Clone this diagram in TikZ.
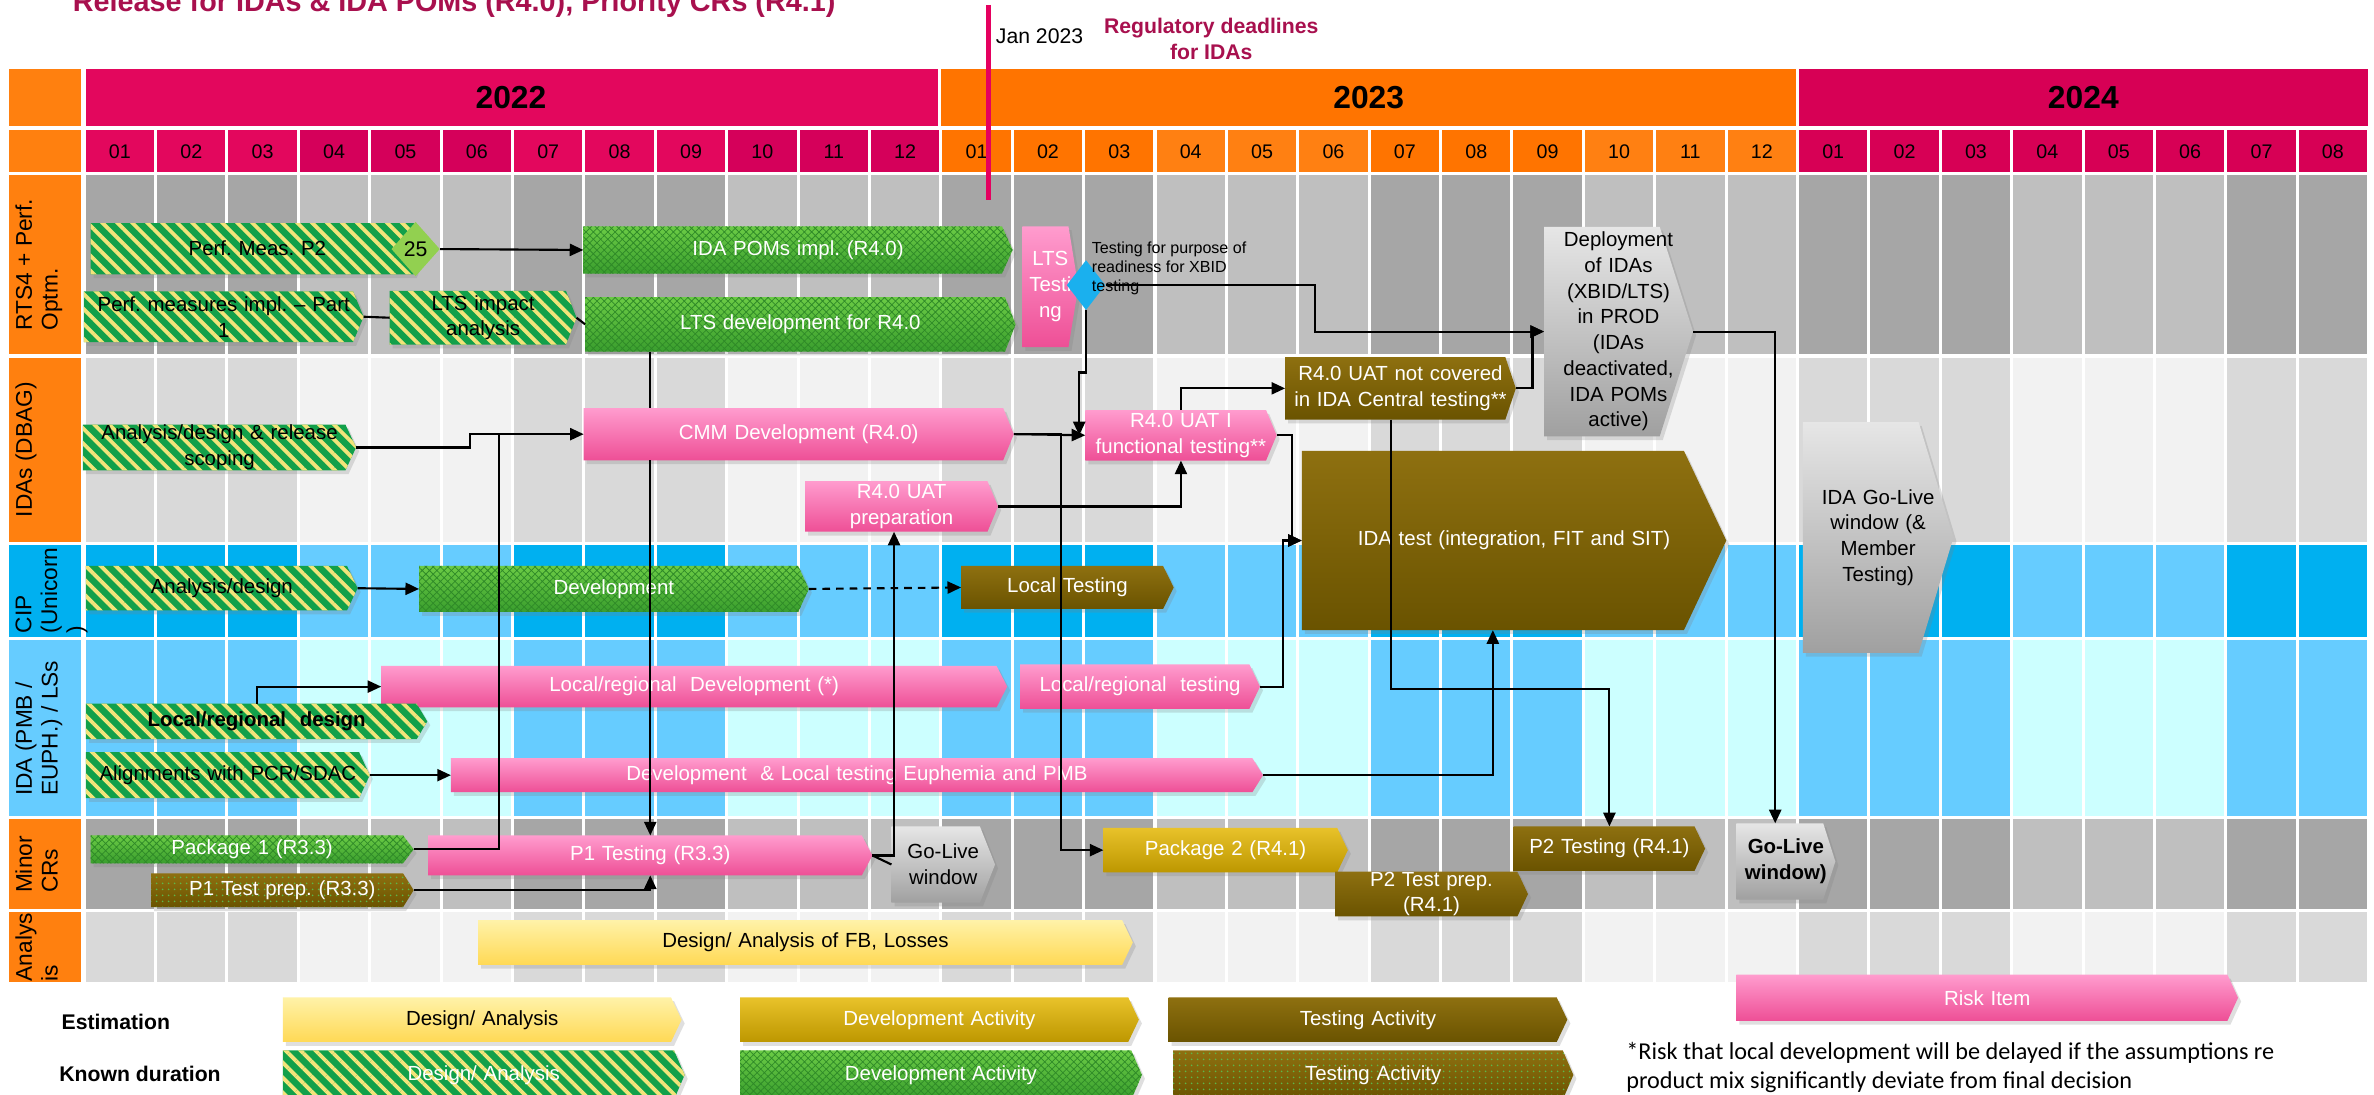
\documentclass[tikz,border=0pt]{standalone}
\usepackage{fontspec}
\setmainfont{Liberation Sans}
\newfontfamily\notefont{Carlito}
\usetikzlibrary{shapes.geometric,arrows.meta,patterns.meta,shadows}
\frenchspacing

% header and grid colours
\definecolor{sideOrange}{HTML}{FF800F}
\definecolor{yr22}{HTML}{E3075D}
\definecolor{yr23}{HTML}{FF7400}
\definecolor{yr24}{HTML}{D70055}
\definecolor{m22a}{HTML}{E3075D}
\definecolor{m22b}{HTML}{D5005A}
\definecolor{m23a}{HTML}{FF7400}
\definecolor{m23b}{HTML}{FF8012}
\definecolor{m24a}{HTML}{D70055}
\definecolor{gridDark}{HTML}{A6A6A6}
\definecolor{gridLight}{HTML}{BFBFBF}
\definecolor{paleDark}{HTML}{D9D9D9}
\definecolor{paleLight}{HTML}{F2F2F2}
\definecolor{cipDark}{HTML}{00B0F0}
\definecolor{cipLight}{HTML}{66CCFF}
\definecolor{pmbLight}{HTML}{CCFFFF}
\definecolor{titleRed}{HTML}{A8104E}
\definecolor{janRed}{HTML}{E5005F}
% bar colours
\definecolor{pinkT}{HTML}{FF9CCE}
\definecolor{pinkB}{HTML}{EE4F96}
\definecolor{greenT}{HTML}{6BCB45}
\definecolor{greenB}{HTML}{3A9E2E}
\definecolor{greenH}{HTML}{2F8A28}
\definecolor{stripeG}{HTML}{12A04A}
\definecolor{stripeY}{HTML}{F2E47A}
\definecolor{goldT}{HTML}{E8C22A}
\definecolor{goldB}{HTML}{BD9700}
\definecolor{oliveT}{HTML}{8E7010}
\definecolor{oliveB}{HTML}{6A5300}
\definecolor{dotG}{HTML}{5DB84A}
\definecolor{yellowT}{HTML}{FFF2A8}
\definecolor{yellowB}{HTML}{FFD955}
\definecolor{grayT}{HTML}{E6E6E6}
\definecolor{grayB}{HTML}{A0A0A0}
\definecolor{diaBlue}{HTML}{1AB0EE}
\definecolor{diaGreen}{HTML}{92D050}

\pgfdeclarelayer{grid}
\pgfdeclarelayer{boxes}
\pgfsetlayers{grid,boxes,main}

\tikzset{
  boxtext/.style={inner sep=0pt, align=center, font=\fontsize{13.5}{17}\selectfont},
  boxshadow/.style={drop shadow={shadow xshift=2pt, shadow yshift=-2.5pt, opacity=0.25}},
  shade box/.style 2 args={boxshadow, top color=#1, bottom color=#2},
  pink box/.style={shade box={pinkT}{pinkB}},
  pink txt/.style={text=white},
  green box/.style={shade box={greenT}{greenB},
    postaction={pattern={Hatch[angle=45,distance=3.4pt,line width=0.5pt]}, pattern color=greenH}},
  green txt/.style={text=white},
  stripe box/.style={boxshadow, preaction={fill=stripeG},
    pattern={Lines[angle=-45,distance=7pt,line width=2.5pt]}, pattern color=stripeY},
  stripe txt/.style={text=black},
  stripew box/.style={stripe box},
  stripew txt/.style={text=white},
  gold box/.style={shade box={goldT}{goldB}},
  gold txt/.style={text=white},
  olive box/.style={shade box={oliveT}{oliveB}},
  olive txt/.style={text=white},
  olivedot box/.style={shade box={oliveT}{oliveB},
    postaction={pattern={Dots[distance=4pt,radius=0.7pt]}, pattern color=dotG}},
  olivedot txt/.style={text=white},
  yellow box/.style={shade box={yellowT}{yellowB}},
  yellow txt/.style={text=black},
  gray box/.style={shade box={grayT}{grayB}},
  gray txt/.style={text=black},
  conn/.style={line width=1.4pt, -{Triangle[length=9pt,width=8pt]}},
  link/.style={line width=1.4pt},
  sidelabel/.style={rotate=90, anchor=north, align=left, inner sep=0pt, font=\fontsize{15}{17}\selectfont},
  monthlabel/.style={font=\fontsize{13}{13}\selectfont},
  yearlabel/.style={font=\bfseries\fontsize{21}{21}\selectfont},
}

% bar: [tip]{name}{x1}{x2}{y1}{y2}{kind}{text}
\newcommand{\ganttbar}[8][7]{%
  \pgfmathsetmacro\gbw{#4-#3}%
  \pgfmathsetmacro\gbh{#6-#5}%
  \pgfmathsetmacro\gbx{(#3+#4)/2}%
  \pgfmathsetmacro\gby{(#5+#6)/2}%
  \node[boxtext, #7 txt, text width=\gbw pt, minimum height=\gbh pt] (#2) at (\gbx,\gby) {#8};
  \begin{pgfonlayer}{boxes}
    \path[#7 box] (#2.north west) -- ([xshift=-#1pt]#2.north east) -- (#2.east)
      -- ([xshift=-#1pt]#2.south east) -- (#2.south west) -- cycle;
  \end{pgfonlayer}}

\begin{document}
\begin{tikzpicture}[x=1pt,y=-1pt]
\useasboundingbox (0,0) rectangle (1568,723);

\begin{pgfonlayer}{grid}
  \fill[white] (0,0) rectangle (1568,723);
  % year row
  \fill[sideOrange] (6,45.6) rectangle (53.5,83);
  \fill[yr22] (56.6,45.6) rectangle (619.4,83);
  \fill[yr23] (621.5,45.6) rectangle (1186,83);
  \fill[yr24] (1188,45.6) rectangle (1564,83);
  \node[yearlabel] (y2022) at (337.5,64.3) {2022};
  \node[yearlabel] (y2023) at (904,64.3) {2023};
  \node[yearlabel] (y2024) at (1376,64.3) {2024};
  % month row
  \fill[sideOrange] (6,86) rectangle (53.5,113.6);
  \foreach \i in {0,...,31}{
    \pgfmathsetmacro\xa{55.6+\i*47.15+1}
    \pgfmathsetmacro\xb{\xa+45.15}
    \pgfmathtruncatemacro\q{mod(int(\i/3),2)}
    \pgfmathtruncatemacro\mm{mod(\i,12)+1}
    \ifnum\i<12 \ifnum\q=0 \def\mcol{m22a}\else\def\mcol{m22b}\fi
    \else\ifnum\i<24 \ifnum\q=0 \def\mcol{m23a}\else\def\mcol{m23b}\fi
    \else\def\mcol{m24a}\fi\fi
    \fill[\mcol] (\xa,86) rectangle (\xb,113.6);
    \node[monthlabel] (mon\i) at ({\xa+22.6},100) {\ifnum\mm<10 0\fi\mm};
  }
  % lanes, shaded by quarter
  \foreach \ya/\yb/\cd/\cl/\cs in {115.5/234/gridDark/gridLight/sideOrange,
      236.5/357.8/paleDark/paleLight/sideOrange, 360/420.5/cipDark/cipLight/cipDark,
      422.5/539/cipLight/pmbLight/cipLight, 541/600.5/gridDark/gridLight/sideOrange,
      602.5/648.6/paleDark/paleLight/sideOrange}{
    \fill[\cs] (6,\ya) rectangle (53.5,\yb);
    \foreach \i in {0,...,31}{
      \pgfmathsetmacro\xa{55.6+\i*47.15+1}
      \pgfmathsetmacro\xb{\xa+45.15}
      \pgfmathtruncatemacro\q{mod(int(\i/3),2)}
      \ifnum\q=0 \fill[\cd] (\xa,\ya) rectangle (\xb,\yb);
      \else \fill[\cl] (\xa,\ya) rectangle (\xb,\yb);\fi
    }
  }
\end{pgfonlayer}

% lane labels
\node[sidelabel] (lrts) at (10,174.8) {RTS4 + Perf.\\Optm.};
\node[sidelabel] (lida) at (10,297) {IDAs (DBAG)};
\node[sidelabel] (lcip) at (10,390) {CIP\\(Unicorn\\)};
\node[sidelabel] (lpmb) at (10,481) {IDA (PMB /\\EUPH.) / LSs};
\node[sidelabel] (lminor) at (10,571) {Minor\\CRs};
\node[sidelabel] (lana) at (10,625.6) {Analys\\is};

% title and deadline
\node[anchor=base west, inner sep=0pt, text=titleRed, font=\bfseries\fontsize{19}{19}\selectfont] (title) at (48,7.5)
  {Release for IDAs \& IDA POMs (R4.0), Priority CRs (R4.1)};
\node[anchor=base west, inner sep=0pt, font=\fontsize{14}{14}\selectfont] (jan) at (657.6,29) {Jan 2023};
\node[anchor=north, align=center, inner sep=0pt, text=titleRed, font=\bfseries\fontsize{14}{17}\selectfont] (reg) at (800,11.8)
  {Regulatory deadlines\\for IDAs};

% RTS4 + Perf. Optm.
\ganttbar{perfmeas}{60}{280}{147.5}{181}{stripe}{Perf. Meas. P2}
\ganttbar{pomsimpl}{385.5}{668.6}{149.7}{180.5}{green}{IDA POMs impl. (R4.0)}
\ganttbar{perfimpl}{55.6}{240}{192.7}{225.7}{stripe}{Perf. measures impl. -- Part\\1}
\ganttbar{ltsimpact}{257.6}{380.6}{192.3}{227.4}{stripe}{LTS impact\\analysis}
\ganttbar{ltsdev}{386.7}{670.6}{196.5}{232}{green}{LTS development for R4.0}
\ganttbar[6.5]{ltstest}{675.5}{712}{149.7}{229}{pink}{LTS\\Testi\\ng}

% IDAs (DBAG)
\ganttbar{anadesign}{55}{235}{280.7}{310.4}{stripe}{Analysis/design \& release\\scoping}
\ganttbar{cmmdev}{385.7}{669.4}{269.7}{303.8}{pink}{CMM Development (R4.0)}
\ganttbar{uatprep}{532}{659}{318}{351}{pink}{R4.0 UAT\\preparation}
\ganttbar{uatfunc}{717}{843}{271}{304}{pink}{R4.0 UAT I\\functional testing**}
\ganttbar{notcov}{849}{1001}{236}{277}{olive}{R4.0 UAT not covered\\in IDA Central testing**}
\ganttbar[22]{deploy}{1020}{1118}{150}{288}{gray}{Deployment\\of IDAs\\(XBID/LTS)\\in PROD\\(IDAs\\deactivated,\\IDA POMs\\active)}
\ganttbar[28]{idatest}{860}{1140}{298}{416}{olive}{IDA test (integration, FIT and SIT)}
\ganttbar[23]{idalive}{1191}{1290}{279}{431}{gray}{IDA Go-Live\\window (\&\\Member\\Testing)}

% CIP (Unicorn)
\ganttbar{anacip}{57}{236}{374}{403}{stripe}{Analysis/design}
\ganttbar{devcip}{277}{534}{374}{404}{green}{Development}
\ganttbar{loctest}{635}{775}{374}{402}{olive}{Local Testing}

% IDA (PMB / EUPH.) / LSs
\ganttbar{lrdev}{252}{665}{440}{467}{pink}{Local/regional\ \ Development (*)}
\ganttbar{lrtest}{674}{832}{439}{468}{pink}{Local/regional\ \ testing}
\ganttbar{lrdes}{57}{282}{465}{488}{stripe}{\bfseries Local/regional\ \ design}
\ganttbar{pcralign}{57}{244}{497}{527}{stripe}{Alignments with PCR/SDAC}
\ganttbar{euph}{298}{834}{501}{523}{pink}{Development\ \ \& Local testing Euphemia and PMB}

% Minor CRs
\ganttbar{pkg1}{60}{273}{552}{570}{green}{Package 1 (R3.3)}
\ganttbar{p1prep}{100}{273}{577}{599}{olivedot}{P1 Test prep. (R3.3)}
\ganttbar{p1test}{283}{576}{552}{578}{pink}{P1 Testing (R3.3)}
\ganttbar[10]{golive1}{589}{657}{546}{596}{gray}{Go-Live\\window}
\ganttbar{pkg2}{729}{890}{547}{576}{gold}{Package 2 (R4.1)}
\ganttbar{p2prep}{882}{1009}{576}{605}{olive}{P2 Test prep.\\(R4.1)}
\ganttbar{p2test}{1000}{1126}{546}{575}{olive}{P2 Testing (R4.1)}
\ganttbar[8]{golive2}{1147}{1212}{544}{594}{gray}{\bfseries Go-Live\\\bfseries window)}

% Analysis
\ganttbar{fbloss}{316}{748}{608}{637}{yellow}{Design/ Analysis of FB, Losses}

% milestones
\node[diamond, fill=diaGreen, minimum width=32pt, minimum height=36pt, inner sep=0pt,
  font=\fontsize{14}{14}\selectfont] (m25) at (274.5,164.5) {25};
\node[diamond, fill=diaBlue, minimum width=25.5pt, minimum height=33pt, inner sep=0pt] (xbid) at (717.3,188.3) {};

% legend
\node[anchor=base west, inner sep=0pt, font=\bfseries\fontsize{14}{14}\selectfont] (estim) at (40.5,680) {Estimation};
\node[anchor=base west, inner sep=0pt, font=\bfseries\fontsize{14}{14}\selectfont] (known) at (39,714.6) {Known duration};
\ganttbar{legdes}{187}{450}{659}{688}{yellow}{Design/ Analysis}
\ganttbar{legdesk}{187}{452}{694}{726}{stripew}{Design/ Analysis}
\ganttbar{legdev}{489}{752}{659}{688}{gold}{Development Activity}
\ganttbar{legdevk}{489}{754}{694}{726}{green}{Development Activity}
\ganttbar{legtest}{772}{1035}{659}{688}{olive}{Testing Activity}
\ganttbar{legtestk}{775}{1039}{694}{726}{olivedot}{Testing Activity}
\ganttbar{legrisk}{1147}{1478}{644}{674}{pink}{Risk Item}
\node[anchor=north west, align=left, inner sep=0pt, font=\notefont\fontsize{16}{19.5}\selectfont] (note) at (1074,688)
  {*Risk that local development will be delayed if the assumptions re\\product mix significantly deviate from final decision};

% dependencies
\draw[conn] (m25.east) -- (pomsimpl.west);
\draw[link] (perfimpl.east) -- (ltsimpact.west);
\draw[link] (ltsimpact.east) -- (ltsdev.west);
\draw[conn] (anadesign.east) -- ++(75,0) |- (cmmdev.west);
\draw[link] (pkg1.east) -| ([xshift=-56pt]cmmdev.west);
\draw[link] (ltsdev.south -| p1test.north) -- (cmmdev.north -| p1test.north);
\draw[conn] (cmmdev.south -| p1test.north) -- (p1test.north);
\draw[conn] (p1prep.east) -| (p1test.south);
\draw[link] (p1test.east) -- (golive1.west);
\draw[conn] (p1test.east) -| ([xshift=-5pt]uatprep.south);
\draw[conn] (cmmdev.east) -- (uatfunc.west);
\draw[conn] (cmmdev.east) -- ++(31,0) |- (pkg2.west);
\draw[conn] (xbid.south) -- ++(0,41) -| ([xshift=-4pt]uatfunc.west);
\draw[conn] (xbid.east) -- ++(138,0) |- (deploy.west);
\draw[conn] (uatprep.east) -| (uatfunc.south);
\draw[conn] (uatfunc.north) |- (notcov.west);
\draw[conn] (uatfunc.east) -- ++(10,0) |- (idatest.west);
\draw[conn] (notcov.east) -- ++(11,0) |- (deploy.west);
\draw[conn] ([xshift=-6pt]notcov.south) -- ++(0,178) -| (p2test.north);
\draw[conn] (deploy.east) -| ([xshift=-7pt]golive2.north);
\draw[conn] (anacip.east) -- (devcip.west);
\draw[conn, dash pattern=on 5pt off 4pt] (devcip.east) -- (loctest.west);
\draw[conn] (lrdes.north) |- (lrdev.west);
\draw[conn] (lrtest.east) -- ++(15,0) |- (idatest.west);
\draw[conn] (pcralign.east) -- (euph.west);
\draw[conn] (euph.east) -| ([xshift=-14pt]idatest.south);

\node[anchor=north west, align=left, inner sep=0pt, font=\fontsize{10.6}{12.8}\selectfont] (xbidnote) at (721,159.3)
  {Testing for purpose of\\readiness for XBID\\testing};

% Jan 2023 marker
\coordinate (jantop) at (652.7,3.3);
\coordinate (janbot) at (652.7,132);
\draw[janRed, line width=3.4pt] (jantop) -- (janbot);
\end{tikzpicture}
\end{document}
